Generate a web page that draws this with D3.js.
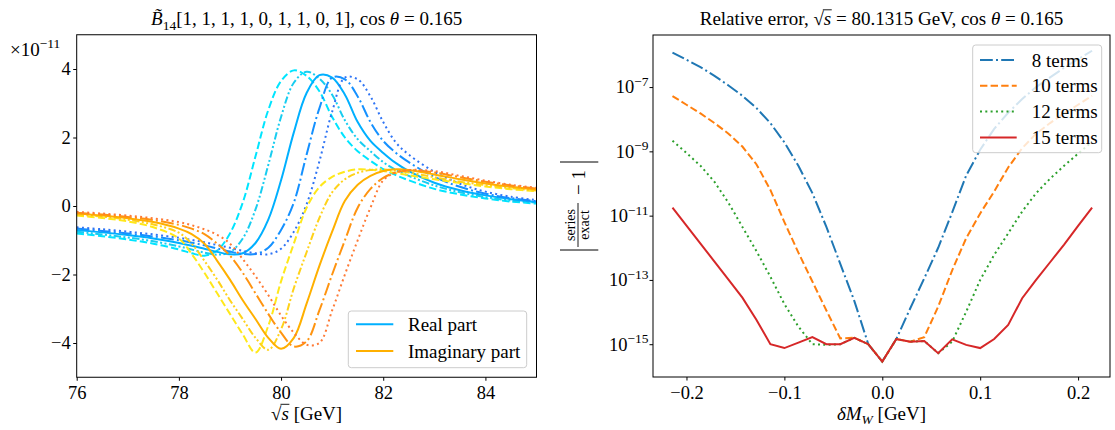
<!DOCTYPE html>
<html>
<head>
<meta charset="utf-8">
<script src="https://d3js.org/d3.v7.min.js"></script>
<style>
	body { margin: 0; background: #fff; }
	svg text { font-family: "Liberation Serif", "DejaVu Serif", serif; fill: #000; }
</style>
</head>
<body>
<div id="chart"></div>
<script>
// left panel: sqrt(s) grid and the ten curves (x 1e-11)
let sqrtS = [76, 76.5, 77, 77.5, 78, 78.25, 78.5, 78.75, 79, 79.25, 79.5, 79.75, 80, 80.25, 80.5, 80.75, 81, 81.25, 81.5, 81.75, 82, 82.25, 82.5, 83, 83.5, 84, 84.5, 85];

let reDashed = [-0.80, -0.88, -0.98, -1.10, -1.27, -1.38, -1.45, -1.30, -0.80, 0.10, 1.45, 2.80, 3.65, 3.96, 3.80, 3.35, 2.60, 2.00, 1.60, 1.32, 1.08, 0.90, 0.75, 0.50, 0.34, 0.22, 0.13, 0.07];
let reDashDotDot = [-0.75, -0.83, -0.92, -1.03, -1.18, -1.27, -1.36, -1.42, -1.35, -0.95, -0.10, 1.20, 2.60, 3.60, 3.92, 3.72, 3.25, 2.50, 1.95, 1.60, 1.28, 1.05, 0.88, 0.60, 0.40, 0.26, 0.16, 0.10];
let reSolid = [-0.70, -0.77, -0.85, -0.95, -1.08, -1.16, -1.25, -1.34, -1.41, -1.38, -1.08, -0.40, 0.75, 2.15, 3.30, 3.82, 3.75, 3.25, 2.45, 1.90, 1.55, 1.25, 1.02, 0.68, 0.46, 0.31, 0.20, 0.12];
let reDashDot = [-0.66, -0.73, -0.80, -0.89, -1.00, -1.07, -1.15, -1.24, -1.33, -1.40, -1.40, -1.22, -0.70, 0.10, 1.50, 2.85, 3.75, 3.70, 3.20, 2.45, 1.90, 1.55, 1.28, 0.85, 0.56, 0.36, 0.23, 0.14];
let reDotted = [-0.62, -0.68, -0.75, -0.83, -0.93, -0.99, -1.06, -1.14, -1.22, -1.31, -1.38, -1.41, -1.25, -0.75, 0.05, 1.30, 2.75, 3.75, 3.70, 3.20, 2.45, 1.85, 1.50, 1.00, 0.65, 0.42, 0.27, 0.17];

let imDashed = [-0.28, -0.35, -0.45, -0.62, -0.95, -1.40, -1.95, -2.55, -3.15, -3.75, -4.28, -3.50, -2.20, -1.10, -0.05, 0.55, 0.85, 1.00, 1.07, 1.06, 1.02, 0.96, 0.90, 0.78, 0.67, 0.57, 0.49, 0.43];
let imDashDotDot = [-0.25, -0.31, -0.40, -0.54, -0.78, -1.10, -1.60, -2.15, -2.75, -3.30, -3.85, -4.20, -3.60, -2.40, -1.35, -0.35, 0.40, 0.78, 0.97, 1.05, 1.07, 1.03, 0.98, 0.84, 0.71, 0.61, 0.52, 0.45];
let imSolid = [-0.22, -0.28, -0.36, -0.47, -0.66, -0.82, -1.10, -1.60, -2.15, -2.75, -3.30, -3.85, -4.17, -3.85, -2.85, -1.75, -0.75, 0.15, 0.62, 0.88, 1.02, 1.07, 1.05, 0.92, 0.78, 0.66, 0.56, 0.48];
let imDashDot = [-0.20, -0.25, -0.32, -0.41, -0.55, -0.66, -0.82, -1.10, -1.45, -1.95, -2.55, -3.15, -3.70, -4.10, -3.95, -3.05, -2.00, -1.00, -0.05, 0.50, 0.82, 0.98, 1.04, 0.98, 0.84, 0.71, 0.60, 0.51];
let imDotted = [-0.17, -0.22, -0.28, -0.36, -0.47, -0.56, -0.68, -0.84, -1.10, -1.55, -2.05, -2.60, -3.20, -3.70, -4.05, -4.00, -3.05, -2.00, -1.00, -0.05, 0.75, 0.98, 1.05, 1.02, 0.88, 0.74, 0.62, 0.53];

let leftXTicks = [76, 78, 80, 82, 84];
let leftYTicks = [-4, -2, 0, 2, 4];
let partLabels = ["Real part", "Imaginary part"];

// right panel: deltaM_W grid and log10 of the relative error
let deltaMW = [-0.2143, -0.2, -0.1857, -0.1714, -0.1571, -0.1429, -0.1286, -0.1143, -0.1, -0.0857, -0.0714, -0.0571, -0.0429, -0.0286, -0.0143, 0,
	0.0143, 0.0286, 0.0429, 0.0571, 0.0714, 0.0857, 0.1, 0.1143, 0.1286, 0.1429, 0.1571, 0.1714, 0.1857, 0.2, 0.2143];
let log10Err8 = [-5.93, -6.15, -6.38, -6.65, -6.95, -7.27, -7.65, -8.12, -8.72, -9.45, -10.3, -11.35, -12.5, -13.65, -15.0, -15.54,
	-14.84, -13.88, -12.95, -12.0, -10.9, -9.75, -8.95, -8.3, -7.8, -7.37, -7.0, -6.7, -6.4, -6.13, -5.87];
let log10Err10 = [-7.28, -7.55, -7.82, -8.12, -8.45, -8.85, -9.4, -10.2, -11.2, -12.15, -13.05, -13.95, -14.82, -14.8, -15.0, -15.54,
	-14.84, -14.92, -14.78, -13.83, -12.7, -11.7, -10.93, -10.25, -9.5, -8.9, -8.45, -8.12, -7.82, -7.55, -7.27];
let log10Err12 = [-8.67, -9.05, -9.45, -9.95, -10.6, -11.35, -12.1, -12.9, -13.75, -14.45, -15.0, -15.02, -15.0, -14.8, -15.0, -15.54,
	-14.84, -14.92, -14.9, -15.28, -14.92, -13.99, -13.0, -12.22, -11.55, -10.87, -10.3, -9.85, -9.45, -9.07, -8.7];
let log10Err15 = [-10.75, -11.31, -11.87, -12.43, -12.99, -13.55, -14.24, -15.0, -15.12, -14.95, -14.78, -15.0, -15.0, -14.8, -15.0, -15.54,
	-14.84, -14.92, -14.9, -15.28, -14.85, -15.02, -15.12, -14.84, -14.4, -13.57, -13.0, -12.45, -11.9, -11.32, -10.75];
let termCounts = [8, 10, 12, 15];

let rightXTicks = [-0.2, -0.1, 0, 0.1, 0.2];
let rightYTickPowers = [-15, -13, -11, -9, -7];

let svg;
let leftX, leftY, rightX, rightY;
let serif = '"Liberation Serif", "DejaVu Serif", serif';

//
//	initSvg
//
initSvg = function () {
	svg = d3
		.select("#chart")
		.append("svg")
		.attr("width", 1115)
		.attr("height", 430);
	svg.append("rect").attr("width", 1115).attr("height", 430).attr("fill", "#fff");

	leftX = d3.scaleLinear().domain([76, 85]).range([76.7, 536.5]);
	leftY = d3.scaleLinear().domain([-5, 5]).range([377.25, 34.75]);
	rightX = d3.scaleLinear().domain([-0.2342, 0.2326]).range([653, 1110]);
	rightY = d3.scaleLog().domain([Math.pow(10, -16.02), Math.pow(10, -5.38)]).range([377, 35]);
};

//
//	styleAxis - serif labels, no domain path
//
styleAxis = function (g) {
	g.attr("font-family", serif).attr("font-size", 18.5);
	g.select(".domain").remove();
	g.selectAll(".tick line").attr("stroke", "#000").attr("stroke-width", 1);
};

//
//	addOverline - vinculum of the sqrt over char idx
//
addOverline = function (text, rootIdx, charIdx, baseline, size) {
	let node = text.node();
	let r = node.getExtentOfChar(rootIdx);
	let c = node.getExtentOfChar(charIdx);
	svg.append("line")
		.attr("x1", r.x + r.width - 1)
		.attr("x2", c.x + c.width + 0.5)
		.attr("y1", baseline - 0.8 * size)
		.attr("y2", baseline - 0.8 * size)
		.attr("stroke", "#000")
		.attr("stroke-width", 0.9);
};

//
//	drawLeft
//
drawLeft = function () {
	let series = [
		{ v: reDashed, color: "#00e5ff", dash: "7.4,3.2" },
		{ v: reDashDotDot, color: "#18cdf0", dash: "7.4,2.4,2,2.4,2,2.4" },
		{ v: reSolid, color: "#00b0ff", dash: null },
		{ v: reDashDot, color: "#1591ff", dash: "12.8,3.2,2,3.2" },
		{ v: reDotted, color: "#2f74f5", dash: "2,3.3" },
		{ v: imDashed, color: "#ffe81a", dash: "7.4,3.2" },
		{ v: imDashDotDot, color: "#ffd21a", dash: "7.4,2.4,2,2.4,2,2.4" },
		{ v: imSolid, color: "#ffb000", dash: null },
		{ v: imDashDot, color: "#ff9410", dash: "12.8,3.2,2,3.2" },
		{ v: imDotted, color: "#ff7a35", dash: "2,3.3" },
	];

	let line = d3
		.line()
		.x((d) => leftX(d[0]))
		.y((d) => leftY(d[1]))
		.curve(d3.curveCatmullRom.alpha(0.5));

	svg.append("clipPath").attr("id", "clipL").append("rect")
		.attr("x", 76.7).attr("y", 34.75).attr("width", 459.8).attr("height", 342.5);

	svg.append("g")
		.attr("clip-path", "url(#clipL)")
		.selectAll("path")
		.data(series)
		.enter()
		.append("path")
		.attr("d", (s) => line(sqrtS.map((x, i) => [x, s.v[i]])))
		.attr("fill", "none")
		.attr("stroke", (s) => s.color)
		.attr("stroke-width", 2)
		.attr("stroke-dasharray", (s) => s.dash);

	svg.append("g")
		.attr("transform", "translate(0,377.25)")
		.call(d3.axisBottom(leftX).tickValues(leftXTicks).tickSize(3.5).tickPadding(5).tickFormat(d3.format("d")))
		.call(styleAxis);

	svg.append("g")
		.attr("transform", "translate(76.7,0)")
		.call(d3.axisLeft(leftY).tickValues(leftYTicks).tickSize(3.5).tickPadding(2.5).tickFormat(d3.format("d")))
		.call(styleAxis);

	svg.append("rect")
		.attr("x", 76.7).attr("y", 34.75).attr("width", 459.8).attr("height", 342.5)
		.attr("fill", "none").attr("stroke", "#000").attr("stroke-width", 1);

	// offset text
	let off = svg.append("text").attr("x", 10).attr("y", 56).attr("font-size", 19);
	off.append("tspan").text("×10");
	off.append("tspan").attr("dy", -8).attr("font-size", 13.5).text("−11");

	// legend
	let lg = svg.append("g");
	lg.append("rect")
		.attr("x", 348.3).attr("y", 311).attr("width", 178.4).attr("height", 56.7).attr("rx", 3)
		.attr("fill", "#fff").attr("fill-opacity", 0.8).attr("stroke", "#cccccc").attr("stroke-width", 1);
	let legendColors = ["#00b0ff", "#ffb000"];
	partLabels.forEach((label, i) => {
		let ly = 324.3 + i * 26.7;
		lg.append("line").attr("x1", 356).attr("x2", 393.3).attr("y1", ly).attr("y2", ly)
			.attr("stroke", legendColors[i]).attr("stroke-width", 2);
		lg.append("text").attr("x", 408).attr("y", ly + 6.7).attr("font-size", 19).text(label);
	});

	// title
	let t = svg.append("text").attr("x", 306.6).attr("y", 25).attr("font-size", 19).attr("text-anchor", "middle");
	t.append("tspan").attr("font-style", "italic").text("B\u0303");
	t.append("tspan").attr("dy", 4.5).attr("font-size", 13.5).text("14");
	t.append("tspan").attr("dy", -4.5).text("[1, 1, 1, 1, 0, 1, 1, 0, 1], cos ");
	t.append("tspan").attr("font-style", "italic").text("θ");
	t.append("tspan").text(" = 0.165");

	// x label
	let xl = svg.append("text").attr("x", 306.6).attr("y", 419.5).attr("font-size", 19).attr("text-anchor", "middle");
	xl.append("tspan").text("√");
	xl.append("tspan").attr("font-style", "italic").text("s");
	xl.append("tspan").text(" [GeV]");
	addOverline(xl, 0, 1, 419.5, 19);
};

//
//	drawRight
//
drawRight = function () {
	let series = [
		{ v: log10Err8, color: "#1f77b4", dash: "12.8,3.2,2,3.2" },
		{ v: log10Err10, color: "#ff7f0e", dash: "7.4,3.2" },
		{ v: log10Err12, color: "#2ca02c", dash: "2,3.3" },
		{ v: log10Err15, color: "#d62728", dash: null },
	];

	let line = d3
		.line()
		.x((d) => rightX(d[0]))
		.y((d) => rightY(d[1]));

	svg.append("g")
		.selectAll("path")
		.data(series)
		.enter()
		.append("path")
		.attr("d", (s) => line(deltaMW.map((x, i) => [x, Math.pow(10, s.v[i])])))
		.attr("fill", "none")
		.attr("stroke", (s) => s.color)
		.attr("stroke-width", 2)
		.attr("stroke-dasharray", (s) => s.dash);

	svg.append("g")
		.attr("transform", "translate(0,377)")
		.call(d3.axisBottom(rightX).tickValues(rightXTicks).tickSize(3.5).tickPadding(5).tickFormat(d3.format(".1f")))
		.call(styleAxis);

	let ya = svg.append("g")
		.attr("transform", "translate(653,0)")
		.call(d3.axisLeft(rightY).tickValues(rightYTickPowers.map((p) => Math.pow(10, p))).tickSize(3.5).tickPadding(1))
		.call(styleAxis);
	ya.selectAll(".tick text").each(function (d) {
		let txt = d3.select(this);
		txt.text(null);
		txt.append("tspan").text("10");
		txt.append("tspan").attr("dy", -7.5).attr("font-size", 13.5).text(d3.format("d")(Math.round(Math.log10(d))));
	});

	svg.append("rect")
		.attr("x", 653).attr("y", 35).attr("width", 457).attr("height", 342)
		.attr("fill", "none").attr("stroke", "#000").attr("stroke-width", 1);

	// legend
	let lg = svg.append("g");
	lg.append("rect")
		.attr("x", 972.7).attr("y", 45).attr("width", 129).attr("height", 107.7).attr("rx", 3)
		.attr("fill", "#fff").attr("fill-opacity", 0.8).attr("stroke", "#cccccc").attr("stroke-width", 1);
	series.forEach((s, i) => {
		let ly = 60 + i * 25.8;
		lg.append("line").attr("x1", 980).attr("x2", 1016.7).attr("y1", ly).attr("y2", ly)
			.attr("stroke", s.color).attr("stroke-width", 2).attr("stroke-dasharray", s.dash);
		lg.append("text").attr("x", 1031.7).attr("y", ly + 6.5).attr("font-size", 19).text(termCounts[i] + " terms");
	});

	// title
	let t = svg.append("text").attr("x", 881.5).attr("y", 25).attr("font-size", 19).attr("text-anchor", "middle");
	t.append("tspan").text("Relative error, √");
	t.append("tspan").attr("font-style", "italic").text("s");
	t.append("tspan").text(" = 80.1315 GeV, cos ");
	t.append("tspan").attr("font-style", "italic").text("θ");
	t.append("tspan").text(" = 0.165");
	addOverline(t, 16, 17, 25, 19);

	// x label
	let xl = svg.append("text").attr("x", 881.5).attr("y", 419.5).attr("font-size", 19).attr("text-anchor", "middle");
	xl.append("tspan").attr("font-style", "italic").text("δM");
	xl.append("tspan").attr("dy", 4.5).attr("font-size", 13.5).attr("font-style", "italic").text("W");
	xl.append("tspan").attr("dy", -4.5).text(" [GeV]");

	// y label |series/exact - 1|
	let yl = svg.append("g").attr("transform", "translate(578,206) rotate(-90)");
	[-44, 44].forEach((bx) => {
		yl.append("line").attr("x1", bx).attr("x2", bx).attr("y1", -18).attr("y2", 20.3)
			.attr("stroke", "#000").attr("stroke-width", 1);
	});
	yl.append("line").attr("x1", -41).attr("x2", 3).attr("y1", 0).attr("y2", 0)
		.attr("stroke", "#000").attr("stroke-width", 0.9);
	yl.append("text").attr("x", -19).attr("y", -3).attr("font-size", 14).attr("text-anchor", "middle").text("series");
	yl.append("text").attr("x", -19).attr("y", 11).attr("font-size", 14).attr("text-anchor", "middle").text("exact");
	yl.append("text").attr("x", 23.5).attr("y", 7).attr("font-size", 19).attr("text-anchor", "middle").text("− 1");
};

initSvg();
drawLeft();
drawRight();
</script>
</body>
</html>
